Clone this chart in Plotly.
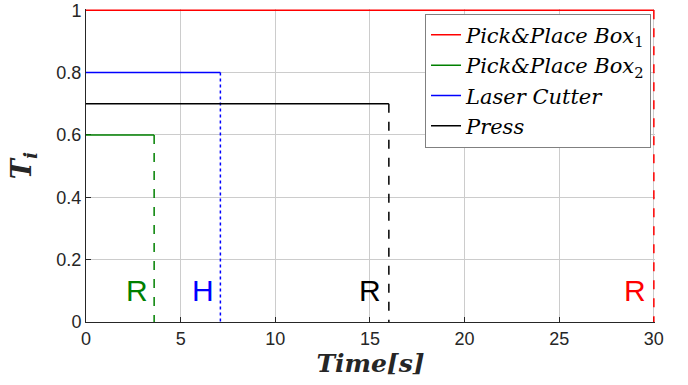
import plotly.graph_objects as go

series_names = ["<i>Pick&Place Box</i><sub>1</sub>", "<i>Pick&Place Box</i><sub>2</sub>",
                "<i>Laser Cutter</i>", "<i>Press</i>"]
colors = ["#ff0000", "#008000", "#0000ff", "#000000"]
levels = [1.0, 0.6, 0.8, 0.7]
end_times = [30.0, 3.6, 7.1, 16.0]
drop_dash = ["dash", "dash", "dot", "dash"]
event_labels = ["R", "R", "H", "R"]
label_x = [29.0, 2.7, 6.18, 15.0]
label_y = [0.1, 0.1, 0.1, 0.1]

x_ticks = [0, 5, 10, 15, 20, 25, 30]
y_ticks = [0, 0.2, 0.4, 0.6, 0.8, 1]

fig = go.Figure()
for name, c, lv, te, dd in zip(series_names, colors, levels, end_times, drop_dash):
    fig.add_trace(go.Scatter(x=[0, te], y=[lv, lv], mode="lines", name=name, cliponaxis=False,
                             line=dict(color=c, width=1.5)))
    fig.add_trace(go.Scatter(x=[te, te], y=[lv, 0], mode="lines", showlegend=False, cliponaxis=False,
                             line=dict(color=c, width=1.5, dash=dd)))

for t, c, lx, ly in zip(event_labels, colors, label_x, label_y):
    fig.add_annotation(x=lx, y=ly, text=t, showarrow=False,
                       font=dict(family="Liberation Sans, Arial", size=30, color=c))

fig.update_layout(
    width=688, height=385,
    margin=dict(l=86, r=33, t=9, b=63),
    plot_bgcolor="white", paper_bgcolor="white",
    showlegend=True,
    legend=dict(x=0.993, y=0.985, xanchor="right", yanchor="top",
                bgcolor="white", bordercolor="#808080", borderwidth=1,
                font=dict(family="DejaVu Serif, serif", size=21, color="black"),
                itemwidth=30, tracegroupgap=0),
    xaxis=dict(range=[0, 30.06], tickvals=x_ticks, showgrid=True, gridcolor="#cccccc",
               zeroline=False, showline=True, linecolor="#262626", mirror=False,
               layer="below traces", automargin=False,
               ticks="inside", ticklen=5, tickcolor="#262626",
               tickfont=dict(family="Liberation Sans, Arial", size=18, color="#262626"),
               title=dict(text="<b><i>Time[s]</i></b>", standoff=2,
                          font=dict(family="DejaVu Serif, serif", size=25, color="#262626"))),
    yaxis=dict(range=[0, 1.004], tickvals=y_ticks, ticktext=["0", "0.2", "0.4", "0.6", "0.8", "1"],
               showgrid=True, gridcolor="#cccccc",
               zeroline=False, showline=True, linecolor="#262626", mirror=False,
               layer="below traces", automargin=False,
               ticks="inside", ticklen=5, tickcolor="#262626",
               tickfont=dict(family="Liberation Sans, Arial", size=18, color="#262626"),
               title=dict(text="<b><i>T<sub>i</sub></i></b>", standoff=16,
                          font=dict(family="DejaVu Serif, serif", size=27, color="#262626"))),
)

fig.write_html("out.html")
